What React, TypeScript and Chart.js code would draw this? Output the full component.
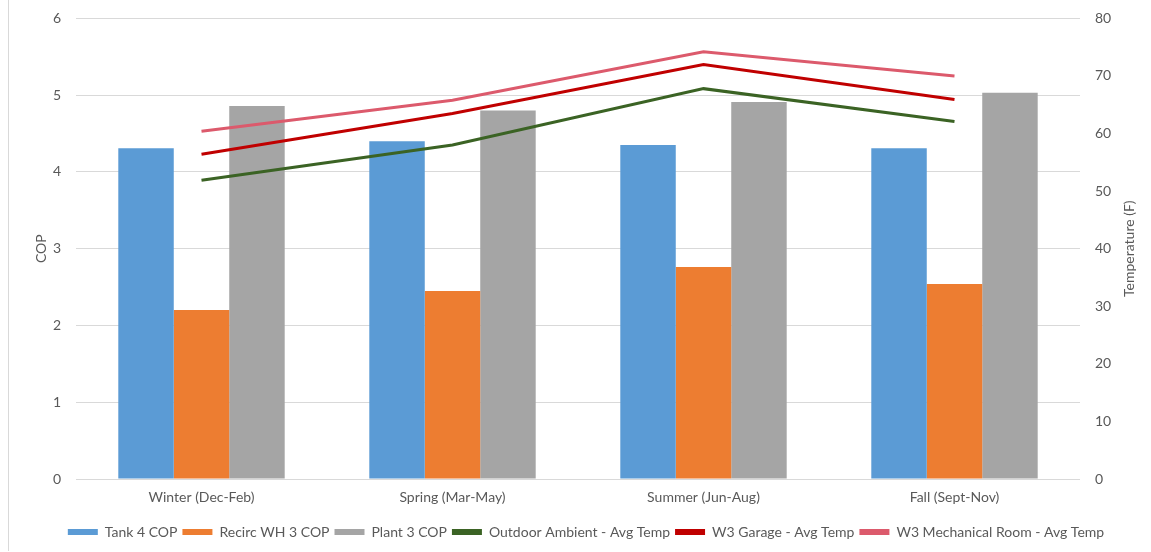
import React, { useEffect, useRef } from "react";
import { Chart, registerables } from "chart.js";

Chart.register(...registerables);

const categories = ["Winter (Dec-Feb)", "Spring (Mar-May)", "Summer (Jun-Aug)", "Fall (Sept-Nov)"];
const tank4Cop = [4.31, 4.4, 4.35, 4.31];
const recircWh3Cop = [2.2, 2.45, 2.76, 2.54];
const plant3Cop = [4.86, 4.8, 4.91, 5.03];
const outdoorAmbient = [51.9, 58.0, 67.8, 62.1];
const w3Garage = [56.4, 63.5, 72.0, 65.9];
const w3MechRoom = [60.4, 65.8, 74.2, 70.0];

const FONT = "Lato, 'Open Sans', sans-serif";
const TEXT = "#595959";

const rightTitle = {
  id: "rightTitle",
  afterDraw(chart: any) {
    const { ctx, chartArea } = chart;
    ctx.save();
    ctx.font = `14px ${FONT}`;
    ctx.fillStyle = TEXT;
    ctx.textAlign = "center";
    ctx.textBaseline = "middle";
    ctx.translate(1120, (chartArea.top + chartArea.bottom) / 2);
    ctx.rotate(-Math.PI / 2);
    ctx.fillText("Temperature (F)", 0, 0);
    ctx.restore();
  },
};

export default function App() {
  const ref = useRef<HTMLCanvasElement>(null);
  useEffect(() => {
    if (!ref.current) return;
    const chart = new Chart(ref.current, {
      type: "bar",
      data: {
        labels: categories,
        datasets: [
          { type: "bar", label: "Tank 4 COP", data: tank4Cop, backgroundColor: "#5B9BD5", yAxisID: "y", order: 2 },
          { type: "bar", label: "Recirc WH 3 COP", data: recircWh3Cop, backgroundColor: "#ED7D31", yAxisID: "y", order: 2 },
          { type: "bar", label: "Plant 3 COP", data: plant3Cop, backgroundColor: "#A5A5A5", yAxisID: "y", order: 2 },
          { type: "line", label: "Outdoor Ambient - Avg Temp", data: outdoorAmbient, borderColor: "#3B6324", backgroundColor: "#3B6324", borderWidth: 3, pointRadius: 0, yAxisID: "y1", order: 1 },
          { type: "line", label: "W3 Garage - Avg Temp", data: w3Garage, borderColor: "#C00000", backgroundColor: "#C00000", borderWidth: 3, pointRadius: 0, yAxisID: "y1", order: 1 },
          { type: "line", label: "W3 Mechanical Room - Avg Temp", data: w3MechRoom, borderColor: "#DC5A6C", backgroundColor: "#DC5A6C", borderWidth: 3, pointRadius: 0, yAxisID: "y1", order: 1 },
        ] as any,
      },
      options: {
        animation: false,
        responsive: true,
        maintainAspectRatio: false,
        layout: { padding: { top: 0, bottom: 2, left: 20, right: 0 } },
        datasets: { bar: { categoryPercentage: 0.663, barPercentage: 1 } } as any,
        plugins: {
          tooltip: { enabled: false },
          legend: {
            position: "bottom",
            labels: {
              font: { family: FONT, size: 14 },
              color: TEXT,
              boxWidth: 30,
              boxHeight: 6,
              padding: 5,
              sort: (a: any, b: any) => a.datasetIndex - b.datasetIndex,
              generateLabels: (c: any) => {
                const items = Chart.defaults.plugins.legend.labels.generateLabels(c);
                items.forEach((it: any) => {
                  it.lineWidth = 0;
                  it.strokeStyle = "rgba(0,0,0,0)";
                });
                return items;
              },
            },
          },
        },
        scales: {
          x: {
            grid: { display: false, drawTicks: false },
            border: { display: false },
            ticks: { font: { family: FONT, size: 14 }, color: TEXT, padding: 10 },
            afterFit: (s: any) => { s.height = 41; },
          },
          y: {
            position: "left",
            min: 0,
            max: 6,
            ticks: { stepSize: 1, font: { family: FONT, size: 14 }, color: TEXT, padding: 15 },
            grid: { color: "#D9D9D9", drawTicks: false, lineWidth: 1 },
            border: { display: false },
            title: { display: true, text: "COP", font: { family: FONT, size: 14 }, color: TEXT, padding: { top: 4, bottom: 0 } },
            afterFit: (s: any) => { s.width = 47; },
          },
          y1: {
            position: "right",
            min: 0,
            max: 80,
            ticks: { stepSize: 10, font: { family: FONT, size: 14 }, color: TEXT, padding: 15 },
            grid: { display: false, drawTicks: false },
            border: { display: false },
            afterFit: (s: any) => { s.width = 63; },
          },
        },
      } as any,
      plugins: [rightTitle],
    });
    return () => chart.destroy();
  }, []);
  return (
    <div style={{ position: "fixed", top: -5, left: 8, width: 1135, height: 556, borderLeft: "1px solid #D9D9D9", boxSizing: "border-box" }}>
      <canvas ref={ref} />
    </div>
  );
}
